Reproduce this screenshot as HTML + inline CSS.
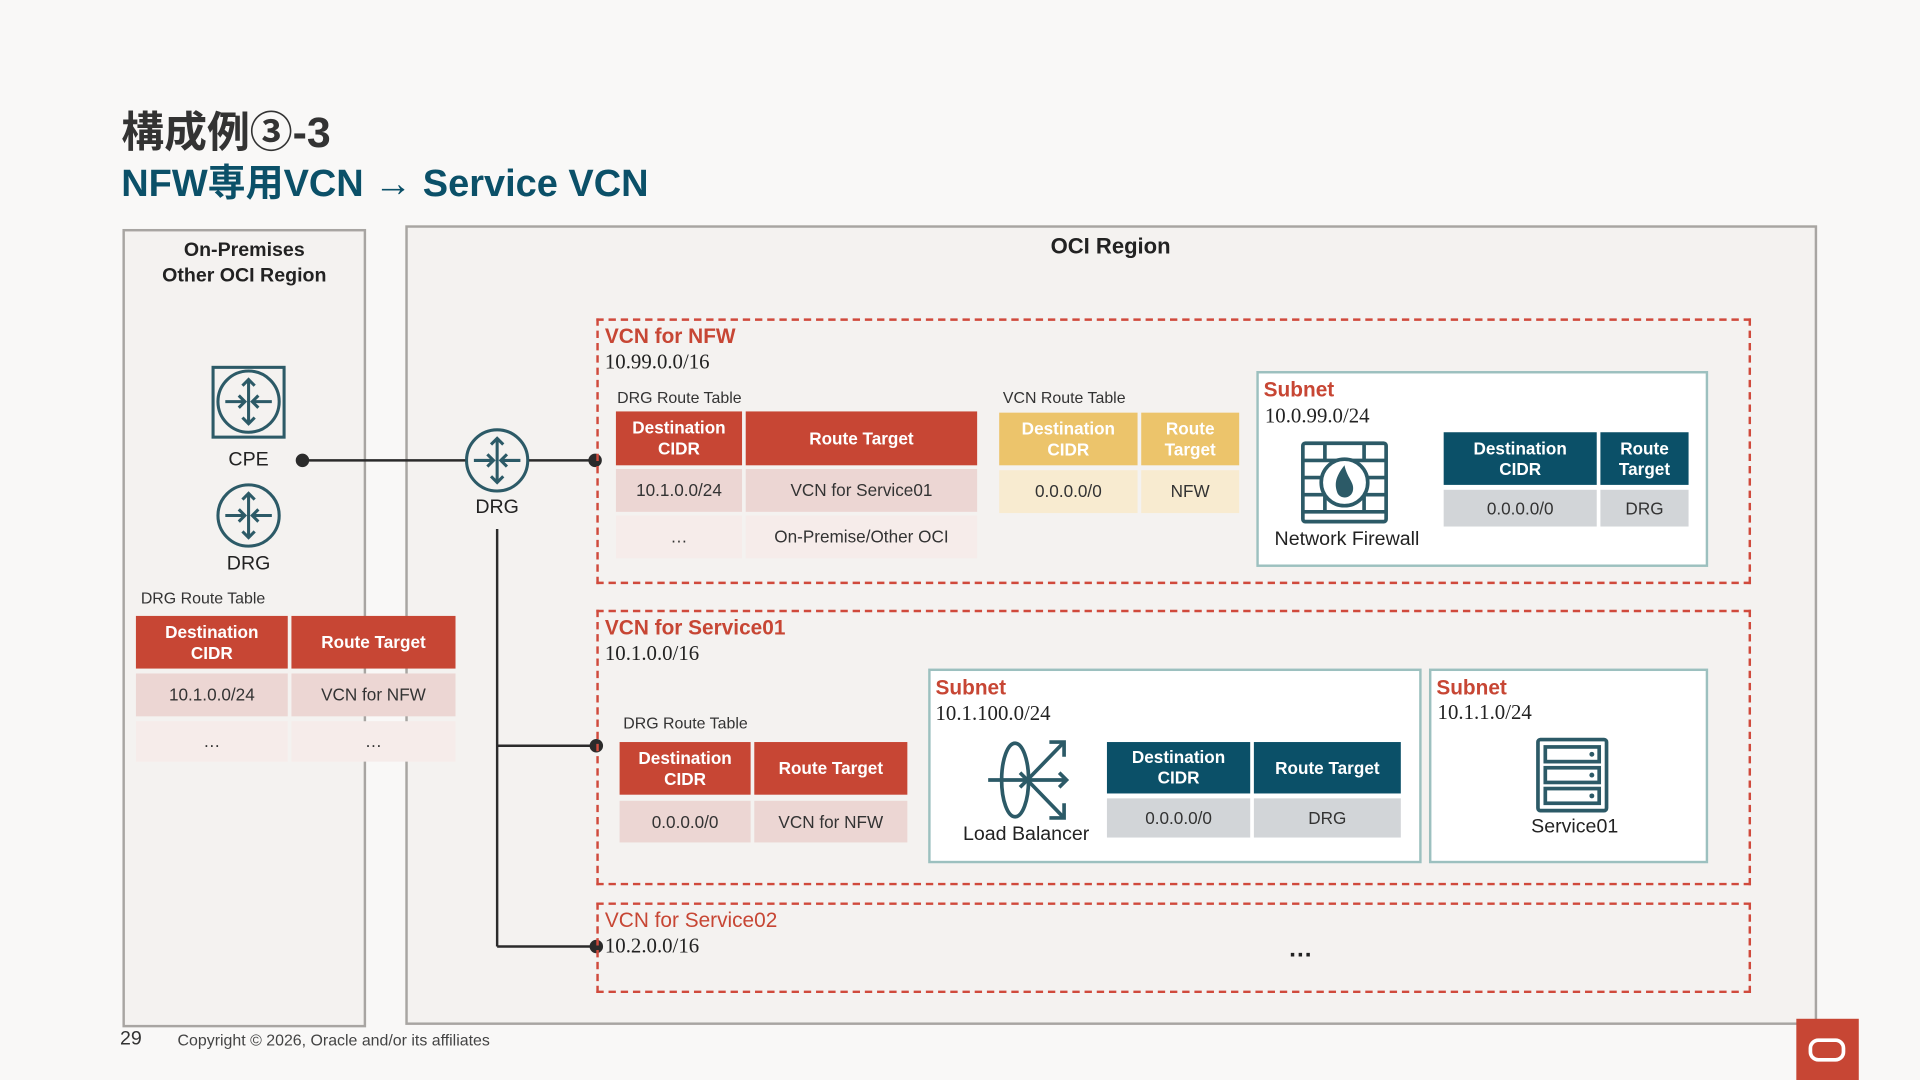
<!DOCTYPE html>
<html><head><meta charset="utf-8">
<style>
html,body{margin:0;padding:0;background:#f9f8f7;overflow:hidden}
#w{position:absolute;left:0;top:0;width:1568px;height:882px;transform:scale(1.22449);transform-origin:0 0;font-family:"Liberation Sans","Noto Sans CJK JP",sans-serif;color:#222}
.a{position:absolute}
.box{position:absolute;box-sizing:border-box}
.c{position:absolute;display:flex;align-items:center;justify-content:center;text-align:center;box-sizing:border-box;font-size:14px;line-height:17px}
.hr{background:#c74634;color:#fff;font-weight:bold}
.hy{background:#ecc46b;color:#fff;font-weight:bold}
.ht{background:#0b5068;color:#fff;font-weight:bold}
.rp{background:#ecd6d3;color:#333}
.rl{background:#f6ecea;color:#333}
.ry{background:#f8ebd0;color:#333}
.rg{background:#d2d5d8;color:#333}
.vcn{position:absolute;box-sizing:border-box;border:2px dashed #d04a3c}
.red{color:#c74634;font-weight:bold;font-size:17px}
.cidr{font-family:"Liberation Serif",serif;font-size:17px;color:#222}
.sub{position:absolute;box-sizing:border-box;background:#fff;border:2px solid #9cc0bf}
.lbl{font-size:13px;color:#333}
</style></head><body>
<div id="w">
<div class="a" style="left:99px;top:80px;font-size:35px;font-weight:bold;color:#333">構成例③-3</div>
<div class="a" style="left:99px;top:124px;font-size:31px;font-weight:bold;color:#0b5068">NFW専用VCN → Service VCN</div>

<div class="box" style="left:100px;top:187px;width:199px;height:652px;border:2px solid #a8a5a2;background:#f4f2f0"></div>
<div class="a" style="left:100px;top:194px;width:199px;text-align:center;font-weight:bold;font-size:16px;line-height:21px">On-Premises<br>Other OCI Region</div>
<div class="box" style="left:331px;top:184px;width:1153px;height:653px;border:2px solid #a8a5a2;background:#f4f2f0"></div>
<div class="a" style="left:800px;top:191px;width:214px;text-align:center;font-weight:bold;font-size:18px">OCI Region</div>

<svg class="a" style="left:0;top:0" width="1568" height="882">
<defs>
<g id="rt" fill="none" stroke="#2c5a67" stroke-width="2.5">
<circle cx="0" cy="0" r="25"/>
<line x1="0" y1="-18" x2="0" y2="18"/><polyline points="-5,-13 0,-18 5,-13"/><polyline points="-5,13 0,18 5,13"/>
<line x1="-19" y1="0" x2="-3" y2="0"/><polyline points="-8,-5 -3,0 -8,5"/>
<line x1="19" y1="0" x2="3" y2="0"/><polyline points="8,-5 3,0 8,5"/>
</g>
</defs>
<rect x="174" y="300" width="58" height="57" fill="none" stroke="#2c5a67" stroke-width="2.5"/>
<use href="#rt" x="203" y="328"/>
<use href="#rt" x="203" y="421"/>
<use href="#rt" x="406" y="376"/>
<g stroke="#2b2b2b" stroke-width="2" fill="#2b2b2b">
<line x1="247" y1="376" x2="380" y2="376"/>
<line x1="432" y1="376" x2="486" y2="376"/>
<line x1="406" y1="432" x2="406" y2="773"/>
<line x1="406" y1="609" x2="487" y2="609"/>
<line x1="406" y1="773" x2="487" y2="773"/>
<circle cx="247" cy="376" r="4.5"/><circle cx="486" cy="376" r="4.5"/><circle cx="487" cy="609" r="4.5"/><circle cx="487" cy="773" r="4.5"/>
</g>
</svg>
<div class="a" style="left:173px;top:367px;width:60px;text-align:center;font-size:16px">CPE</div>
<div class="a" style="left:173px;top:452px;width:60px;text-align:center;font-size:16px">DRG</div>
<div class="a" style="left:376px;top:406px;width:60px;text-align:center;font-size:16px">DRG</div>

<div class="a lbl" style="left:115px;top:481px">DRG Route Table</div>
<div class="c hr" style="left:111px;top:503px;width:124px;height:43px">Destination<br>CIDR</div>
<div class="c hr" style="left:238px;top:503px;width:134px;height:43px">Route Target</div>
<div class="c rp" style="left:111px;top:550px;width:124px;height:35px">10.1.0.0/24</div>
<div class="c rp" style="left:238px;top:550px;width:134px;height:35px">VCN for NFW</div>
<div class="c rl" style="left:111px;top:589px;width:124px;height:33px">…</div>
<div class="c rl" style="left:238px;top:589px;width:134px;height:33px">…</div>

<div class="vcn" style="left:487px;top:260px;width:943px;height:217px"></div>
<div class="a red" style="left:494px;top:265px">VCN for NFW</div>
<div class="a cidr" style="left:494px;top:286px">10.99.0.0/16</div>
<div class="a lbl" style="left:504px;top:317px">DRG Route Table</div>
<div class="c hr" style="left:503px;top:336px;width:103px;height:44px">Destination<br>CIDR</div>
<div class="c hr" style="left:609px;top:336px;width:189px;height:44px">Route Target</div>
<div class="c rp" style="left:503px;top:383px;width:103px;height:35px">10.1.0.0/24</div>
<div class="c rp" style="left:609px;top:383px;width:189px;height:35px">VCN for Service01</div>
<div class="c rl" style="left:503px;top:421px;width:103px;height:35px">…</div>
<div class="c rl" style="left:609px;top:421px;width:189px;height:35px">On-Premise/Other OCI</div>
<div class="a lbl" style="left:819px;top:317px">VCN Route Table</div>
<div class="c hy" style="left:816px;top:337px;width:113px;height:43px">Destination<br>CIDR</div>
<div class="c hy" style="left:932px;top:337px;width:80px;height:43px">Route<br>Target</div>
<div class="c ry" style="left:816px;top:384px;width:113px;height:35px">0.0.0.0/0</div>
<div class="c ry" style="left:932px;top:384px;width:80px;height:35px">NFW</div>
<div class="sub" style="left:1026px;top:303px;width:369px;height:160px"></div>
<div class="a red" style="left:1032px;top:309px">Subnet</div>
<div class="a cidr" style="left:1033px;top:330px">10.0.99.0/24</div>
<svg class="a" style="left:1060px;top:360px" width="76" height="68">
<g fill="none" stroke="#2c5a67" stroke-width="3">
<rect x="4" y="2" width="68" height="64" rx="2"/>
<line x1="4" y1="16" x2="72" y2="16"/><line x1="4" y1="30" x2="72" y2="30"/><line x1="4" y1="44" x2="72" y2="44"/><line x1="4" y1="58" x2="72" y2="58"/>
<line x1="22" y1="2" x2="22" y2="16"/><line x1="54" y1="2" x2="54" y2="16"/>
<line x1="22" y1="44" x2="22" y2="58"/><line x1="54" y1="44" x2="54" y2="58"/>
<circle cx="38" cy="34" r="19" fill="#fff"/>
</g>
<path d="M38 20 C30 30 30 36 32 42 C34 48 44 48 45 40 C46 34 40 30 38 20 Z" fill="#2c5a67"/>
</svg>
<div class="a" style="left:1030px;top:432px;width:140px;text-align:center;font-size:16px">Network Firewall</div>
<div class="c ht" style="left:1179px;top:353px;width:125px;height:43px">Destination<br>CIDR</div>
<div class="c ht" style="left:1307px;top:353px;width:72px;height:43px">Route<br>Target</div>
<div class="c rg" style="left:1179px;top:400px;width:125px;height:30px">0.0.0.0/0</div>
<div class="c rg" style="left:1307px;top:400px;width:72px;height:30px">DRG</div>

<div class="vcn" style="left:487px;top:498px;width:943px;height:225px"></div>
<div class="a red" style="left:494px;top:503px">VCN for Service01</div>
<div class="a cidr" style="left:494px;top:524px">10.1.0.0/16</div>
<div class="a lbl" style="left:509px;top:583px">DRG Route Table</div>
<div class="c hr" style="left:506px;top:606px;width:107px;height:43px">Destination<br>CIDR</div>
<div class="c hr" style="left:616px;top:606px;width:125px;height:43px">Route Target</div>
<div class="c rp" style="left:506px;top:654px;width:107px;height:34px">0.0.0.0/0</div>
<div class="c rp" style="left:616px;top:654px;width:125px;height:34px">VCN for NFW</div>
<div class="sub" style="left:758px;top:546px;width:403px;height:159px"></div>
<div class="a red" style="left:764px;top:552px">Subnet</div>
<div class="a cidr" style="left:764px;top:573px">10.1.100.0/24</div>
<svg class="a" style="left:805px;top:602px" width="70" height="70">
<g fill="none" stroke="#2c5a67" stroke-width="3">
<ellipse cx="24" cy="35" rx="11" ry="30"/>
<line x1="2" y1="35" x2="34" y2="35"/><polyline points="28,29 34,35 28,41"/>
<line x1="34" y1="35" x2="64" y2="4"/><polyline points="52,4 64,4 64,16"/>
<line x1="34" y1="35" x2="66" y2="35"/><polyline points="60,29 66,35 60,41"/>
<line x1="34" y1="35" x2="64" y2="66"/><polyline points="52,66 64,66 64,54"/>
</g>
</svg>
<div class="a" style="left:778px;top:673px;width:120px;text-align:center;font-size:16px">Load Balancer</div>
<div class="c ht" style="left:904px;top:606px;width:117px;height:42px">Destination<br>CIDR</div>
<div class="c ht" style="left:1024px;top:606px;width:120px;height:42px">Route Target</div>
<div class="c rg" style="left:904px;top:652px;width:117px;height:32px">0.0.0.0/0</div>
<div class="c rg" style="left:1024px;top:652px;width:120px;height:32px">DRG</div>
<div class="sub" style="left:1167px;top:546px;width:228px;height:159px"></div>
<div class="a red" style="left:1173px;top:552px">Subnet</div>
<div class="a cidr" style="left:1174px;top:572px">10.1.1.0/24</div>
<svg class="a" style="left:1253px;top:602px" width="62" height="64">
<g fill="none" stroke="#2c5a67" stroke-width="3">
<rect x="3" y="2" width="56" height="58" rx="2"/>
<rect x="9" y="8" width="44" height="12"/><rect x="9" y="25" width="44" height="12"/><rect x="9" y="42" width="44" height="12"/>
</g>
<g fill="#2c5a67"><circle cx="47" cy="14" r="2"/><circle cx="47" cy="31" r="2"/><circle cx="47" cy="48" r="2"/></g>
</svg>
<div class="a" style="left:1236px;top:667px;width:100px;text-align:center;font-size:16px">Service01</div>

<div class="vcn" style="left:487px;top:737px;width:943px;height:74px"></div>
<div class="a" style="left:494px;top:742px;color:#c74634;font-size:17px">VCN for Service02</div>
<div class="a cidr" style="left:494px;top:763px">10.2.0.0/16</div>
<div class="a" style="left:1052px;top:764px;font-size:20px;font-weight:bold">…</div>

<div class="a" style="left:98px;top:840px;font-size:16px;color:#333">29</div>
<div class="a" style="left:145px;top:842px;font-size:13px;color:#444">Copyright © 2026, Oracle and/or its affiliates</div>
<div class="a" style="left:1467px;top:832px;width:51px;height:50px;background:#c74634"></div>
<div class="a" style="left:1477px;top:848px;width:24px;height:13px;border:3px solid #fff;border-radius:8px"></div>
</div>
</body></html>
